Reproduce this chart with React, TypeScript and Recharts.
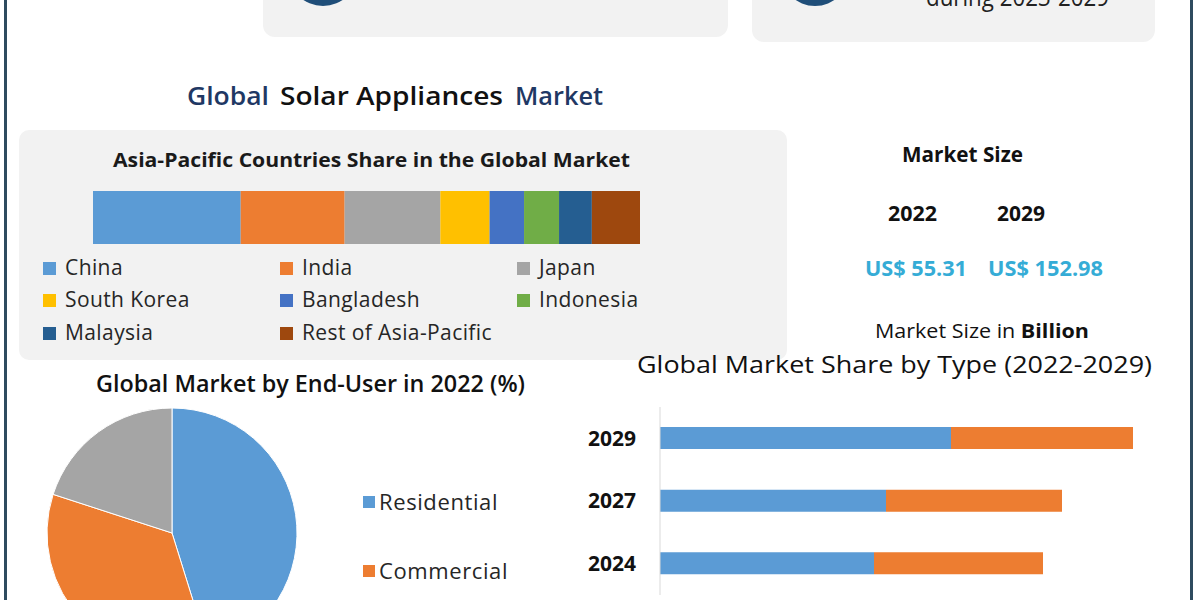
import React from 'react';
import { BarChart, Bar, XAxis, YAxis, PieChart, Pie, Cell } from 'recharts';

// ---- Data ----
const countries = ['China', 'India', 'Japan', 'South Korea', 'Bangladesh', 'Indonesia', 'Malaysia', 'Rest of Asia-Pacific'];
const countryShares = [27, 19, 17.5, 9, 6.3, 6.4, 6, 8.8];
const countryColors = ['#5b9bd5', '#ed7d31', '#a5a5a5', '#ffc000', '#4472c4', '#70ad47', '#255e91', '#9e480e'];

const endUsers = ['Residential', 'Commercial', 'Industrial'];
const endUserShares = [45.2, 34.8, 20.0];
const endUserColors = ['#5b9bd5', '#ed7d31', '#a5a5a5'];

const typeYears = ['2029', '2027', '2024'];
const typeA = [58.2, 45.2, 42.8];
const typeB = [36.4, 35.2, 33.8];
const typeColors = ['#5b9bd5', '#ed7d31'];

const marketYears = ['2022', '2029'];
const marketValues = [55.31, 152.98];

const FONT = "'Open Sans', 'Noto Sans', sans-serif";

type TProps = {
  x: number; y: number; w?: number; size: number; weight?: number; fill?: string; ls?: number;
  anchor?: 'start' | 'middle' | 'end'; children: React.ReactNode;
};
const T = ({ x, y, w, size, weight = 400, fill = '#1a1a1a', anchor = 'start', ls, children }: TProps) => (
  <text
    x={x}
    y={y}
    fontSize={size}
    fontWeight={weight}
    fill={fill}
    fontFamily={FONT}
    textAnchor={anchor}
    letterSpacing={ls}
    {...(w ? { textLength: w, lengthAdjust: 'spacingAndGlyphs' } : {})}
  >
    {children}
  </text>
);

export default function App() {
  const shareRow = [
    countries.reduce((acc: Record<string, number | string>, c, i) => {
      acc[c] = countryShares[i];
      return acc;
    }, { name: 'Asia-Pacific' } as Record<string, number | string>),
  ];
  const typeRows = typeYears.map((y, i) => ({ year: y, a: typeA[i], b: typeB[i] }));
  const pieData = endUsers.map((n, i) => ({ name: n, value: endUserShares[i] }));

  const legendCols = [43, 280, 517];
  const legendRows = [268, 300, 333];

  return (
    <div style={{ position: 'fixed', left: 0, top: 0, width: 1200, height: 600, overflow: 'hidden', background: '#fff', fontFamily: FONT }}>
      {/* background shapes */}
      <svg width={1200} height={600} style={{ position: 'absolute', left: 0, top: 0 }}>
        <rect x={263} y={-30} width={465} height={67} rx={12} fill="#f2f2f2" />
        <rect x={752} y={-30} width={403} height={72} rx={12} fill="#f2f2f2" />
        <circle cx={323} cy={-29} r={35} fill="#1f4e79" />
        <circle cx={815} cy={-28} r={34} fill="#1f4e79" />
        <rect x={19} y={130} width={768} height={230} rx={10} fill="#f2f2f2" />
        <rect x={4} y={0} width={3} height={600} fill="#2f4b5f" />
        <rect x={1190} y={0} width={3} height={600} fill="#2f4b5f" />
      </svg>

      {/* Asia-Pacific stacked share bar */}
      <div style={{ position: 'absolute', left: 93, top: 191 }}>
        <BarChart width={547} height={53} layout="vertical" data={shareRow} margin={{ top: 0, right: 0, bottom: 0, left: 0 }} barCategoryGap={0}>
          <XAxis type="number" hide domain={[0, 100]} allowDataOverflow />
          <YAxis type="category" dataKey="name" hide />
          {countries.map((c, i) => (
            <Bar key={c} dataKey={c} stackId="s" fill={countryColors[i]} isAnimationActive={false} />
          ))}
        </BarChart>
      </div>

      {/* End-user pie */}
      <div style={{ position: 'absolute', left: 22, top: 383 }}>
        <PieChart width={300} height={300}>
          <Pie
            data={pieData}
            dataKey="value"
            nameKey="name"
            cx="50%"
            cy="50%"
            outerRadius={125}
            startAngle={90}
            endAngle={-270}
            stroke="#ffffff"
            strokeWidth={1}
            isAnimationActive={false}
          >
            {pieData.map((d, i) => (
              <Cell key={d.name} fill={endUserColors[i]} />
            ))}
          </Pie>
        </PieChart>
      </div>

      {/* Type share horizontal bars */}
      <div style={{ position: 'absolute', left: 560, top: 407 }}>
        <BarChart width={600} height={188} layout="vertical" data={typeRows} margin={{ top: 0, right: 0, bottom: 0, left: 0 }} barSize={22}>
          <XAxis type="number" hide domain={[0, 100]} />
          <YAxis
            type="category"
            dataKey="year"
            width={100}
            axisLine={{ stroke: '#d9d9d9', strokeWidth: 1 }}
            tickLine={false}
            tickMargin={18}
            tick={{ fill: '#111', fontSize: 21, fontWeight: 700, fontFamily: FONT }}
          />
          <Bar dataKey="a" stackId="t" fill={typeColors[0]} isAnimationActive={false} />
          <Bar dataKey="b" stackId="t" fill={typeColors[1]} isAnimationActive={false} />
        </BarChart>
      </div>

      {/* text overlay */}
      <svg width={1200} height={600} style={{ position: 'absolute', left: 0, top: 0, pointerEvents: 'none' }}>
        <T x={926} y={6} w={183} size={26} fill="#222">during 2023-2029</T>

        <T x={187} y={105} w={82} size={26} weight={600} fill="#1f3864">Global</T>
        <T x={280} y={105} w={223} size={26} weight={600} fill="#111">Solar Appliances</T>
        <T x={515} y={105} w={88} size={26} weight={600} fill="#1f3864">Market</T>

        <T x={113} y={167} w={517} size={19} weight={700} fill="#1a1a1a">Asia-Pacific Countries Share in the Global Market</T>

        {countries.map((c, i) => {
          const col = i % 3;
          const row = Math.floor(i / 3);
          const x = legendCols[col];
          const y = legendRows[row];
          return (
            <g key={c}>
              <rect x={x} y={y - 6} width={13} height={13} fill={countryColors[i]} />
              <T x={x + 22} y={y + 7} size={21} ls={0.4} fill="#262626">{c}</T>
            </g>
          );
        })}

        <T x={902} y={162} w={121} size={21} weight={700} fill="#111">Market Size</T>
        <T x={888} y={221} w={49} size={21} weight={700} fill="#111">{marketYears[0]}</T>
        <T x={997} y={221} w={48} size={21} weight={700} fill="#111">{marketYears[1]}</T>
        <T x={865} y={276} w={102} size={21} weight={700} fill="#35acd6">{`US$ ${marketValues[0].toFixed(2)}`}</T>
        <T x={988} y={276} w={115} size={21} weight={700} fill="#35acd6">{`US$ ${marketValues[1].toFixed(2)}`}</T>
        <text x={875} y={338} fontSize={20} fontFamily={FONT} fill="#111" textLength={214} lengthAdjust="spacingAndGlyphs">
          Market Size in <tspan fontWeight={700}>Billion</tspan>
        </text>

        <T x={96} y={392} w={429} size={23} weight={600} fill="#111">Global Market by End-User in 2022 (%)</T>

        {endUsers
          .map((n, i) => ({ n, i, top: 496 + i * 69 }))
          .filter((d) => d.top + 14 < 600)
          .map(({ n, i, top }) => (
            <g key={n}>
              <rect x={363} y={top} width={12} height={12} fill={endUserColors[i]} />
              <T x={379} y={top + 14} size={22} ls={0.6} fill="#262626">{n}</T>
            </g>
          ))}

        <T x={637} y={373} w={515} size={23} weight={500} fill="#111">Global Market Share by Type (2022-2029)</T>
      </svg>
    </div>
  );
}
